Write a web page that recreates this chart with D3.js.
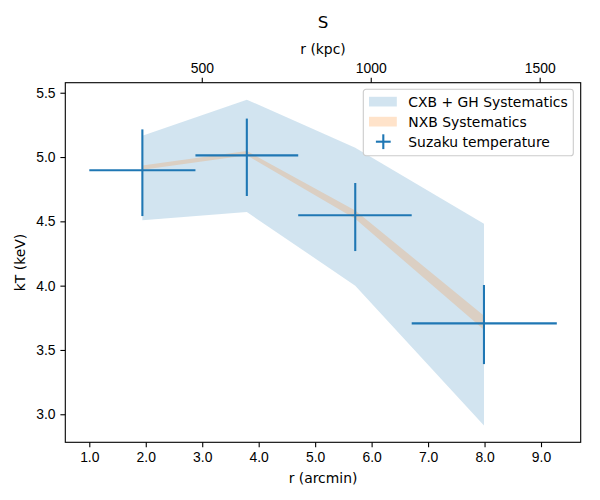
<!DOCTYPE html>
<html lang="en">
<head>
    <meta charset="UTF-8">
    <title>S - kT profile</title>
    <script src="https://d3js.org/d3.v7.min.js"></script>
    <style>
        body {
            margin: 0;
            padding: 0;
            background-color: white;
        }
        svg {
            display: block;
            font-family: 'DejaVu Sans', sans-serif;
        }
        .tick text {
            font-size: 13.9px;
        }
    </style>
</head>
<body>
    <svg width="600" height="500"></svg>

    <script>
        // radial bins (arcmin) and measured temperatures
        const rCenter = [1.94, 3.79, 5.71, 7.99];
        const rEdges = [1.0, 2.88, 4.70, 6.71, 9.28];
        const kT = [4.897, 5.013, 4.547, 3.707];
        const kTLow = [4.541, 4.697, 4.269, 3.39];
        const kTHigh = [5.215, 5.299, 4.798, 4.005];

        // systematic envelopes
        const cxbLow = [4.508, 4.572, 4.00, 2.912];
        const cxbHigh = [5.166, 5.446, 5.073, 4.482];
        const nxbLow = [4.902, 5.013, 4.52, 3.657];
        const nxbHigh = [4.935, 5.047, 4.585, 3.766];

        const xTicks = [1, 2, 3, 4, 5, 6, 7, 8, 9];
        const yTicks = [3.0, 3.5, 4.0, 4.5, 5.0, 5.5];
        const kpcTicks = [500, 1000, 1500];
        const kpcPerArcmin = 167.1;

        const legendLabels = ["CXB + GH Systematics", "NXB Systematics", "Suzaku temperature"];

        const blue = "#1f77b4", orange = "#ff7f0e";

        const svg = d3.select("svg"),
              margin = {top: 82.7, right: 19.3, bottom: 57.7, left: 65.3},
              width = svg.attr("width") - margin.left - margin.right,
              height = svg.attr("height") - margin.top - margin.bottom,
              g = svg.append("g").attr("transform", `translate(${margin.left},${margin.top})`);

        const x = d3.scaleLinear().domain([0.575, 9.703]).range([0, width]);
        const y = d3.scaleLinear().domain([2.782, 5.578]).range([height, 0]);
        const xTop = d3.scaleLinear()
              .domain(x.domain().map(d => d * kpcPerArcmin))
              .range([0, width]);

        const rows = rCenter.map((r, i) => ({
            r: r, kT: kT[i], lo: kTLow[i], hi: kTHigh[i],
            x0: rEdges[i], x1: rEdges[i + 1],
            cLo: cxbLow[i], cHi: cxbHigh[i], nLo: nxbLow[i], nHi: nxbHigh[i]
        }));

        // bands
        g.append("path")
          .datum(rows)
          .attr("fill", blue)
          .attr("fill-opacity", 0.2)
          .attr("d", d3.area().x(d => x(d.r)).y0(d => y(d.cLo)).y1(d => y(d.cHi)));

        g.append("path")
          .datum(rows)
          .attr("fill", orange)
          .attr("fill-opacity", 0.2)
          .attr("d", d3.area().x(d => x(d.r)).y0(d => y(d.nLo)).y1(d => y(d.nHi)));

        // error bars
        const bars = g.append("g")
          .attr("stroke", blue)
          .attr("stroke-width", 2.1);

        bars.selectAll(".xerr")
          .data(rows)
          .enter().append("line")
          .attr("class", "xerr")
          .attr("x1", d => x(d.x0))
          .attr("x2", d => x(d.x1))
          .attr("y1", d => y(d.kT))
          .attr("y2", d => y(d.kT));

        bars.selectAll(".yerr")
          .data(rows)
          .enter().append("line")
          .attr("class", "yerr")
          .attr("x1", d => x(d.r))
          .attr("x2", d => x(d.r))
          .attr("y1", d => y(d.lo))
          .attr("y2", d => y(d.hi));

        // axes
        const xAxis = g.append("g")
          .attr("transform", `translate(0,${height})`)
          .call(d3.axisBottom(x).tickValues(xTicks).tickFormat(d3.format(".1f")).tickSizeOuter(0).tickSize(4.9).tickPadding(4.9));

        const yAxis = g.append("g")
          .call(d3.axisLeft(y).tickValues(yTicks).tickFormat(d3.format(".1f")).tickSizeOuter(0).tickSize(4.9).tickPadding(4.9));

        const topAxis = g.append("g")
          .call(d3.axisTop(xTop).tickValues(kpcTicks).tickFormat(d3.format("d")).tickSizeOuter(0).tickSize(4.9).tickPadding(4.9));

        [xAxis, yAxis, topAxis].forEach(a => {
            a.selectAll(".tick line").attr("stroke-width", 1.1);
            a.select(".domain").remove();
            a.selectAll(".tick text").attr("fill", "black");
        });

        g.append("rect")
          .attr("width", width)
          .attr("height", height)
          .attr("fill", "none")
          .attr("stroke", "black")
          .attr("stroke-width", 1.1);

        // labels
        svg.append("text")
          .attr("x", margin.left + width / 2)
          .attr("y", 27.5)
          .attr("text-anchor", "middle")
          .attr("font-size", 16.7)
          .text("S");

        svg.append("text")
          .attr("x", margin.left + width / 2)
          .attr("y", 54)
          .attr("text-anchor", "middle")
          .attr("font-size", 13.9)
          .text("r (kpc)");

        svg.append("text")
          .attr("x", margin.left + width / 2)
          .attr("y", 483)
          .attr("text-anchor", "middle")
          .attr("font-size", 13.9)
          .text("r (arcmin)");

        svg.append("text")
          .attr("transform", `translate(25,${margin.top + height / 2}) rotate(-90)`)
          .attr("text-anchor", "middle")
          .attr("font-size", 13.9)
          .text("kT (keV)");

        // legend
        const legend = svg.append("g").attr("transform", "translate(363.3,89.3)");

        legend.append("rect")
          .attr("width", 210)
          .attr("height", 66.4)
          .attr("rx", 2.8)
          .attr("fill", "white")
          .attr("fill-opacity", 0.8)
          .attr("stroke", "#cccccc")
          .attr("stroke-width", 1.1);

        const item = legend.selectAll(".item")
          .data(legendLabels)
          .enter().append("g")
          .attr("class", "item")
          .attr("transform", (d, i) => `translate(0,${12.4 + i * 20})`);

        item.filter((d, i) => i < 2).append("rect")
          .attr("x", 5.7)
          .attr("y", -4.9)
          .attr("width", 27.8)
          .attr("height", 9.7)
          .attr("fill", (d, i) => i === 0 ? blue : orange)
          .attr("fill-opacity", (d, i) => i === 0 ? 0.2 : 0.22);

        const plus = item.filter((d, i) => i === 2);
        plus.append("line")
          .attr("x1", 12.6).attr("x2", 27.4)
          .attr("y1", 0).attr("y2", 0)
          .attr("stroke", blue).attr("stroke-width", 2.1);
        plus.append("line")
          .attr("x1", 20).attr("x2", 20)
          .attr("y1", -7.4).attr("y2", 7.4)
          .attr("stroke", blue).attr("stroke-width", 2.1);

        item.append("text")
          .attr("x", 45)
          .attr("y", 4.9)
          .attr("font-size", 13.9)
          .text(d => d);
    </script>
</body>
</html>
